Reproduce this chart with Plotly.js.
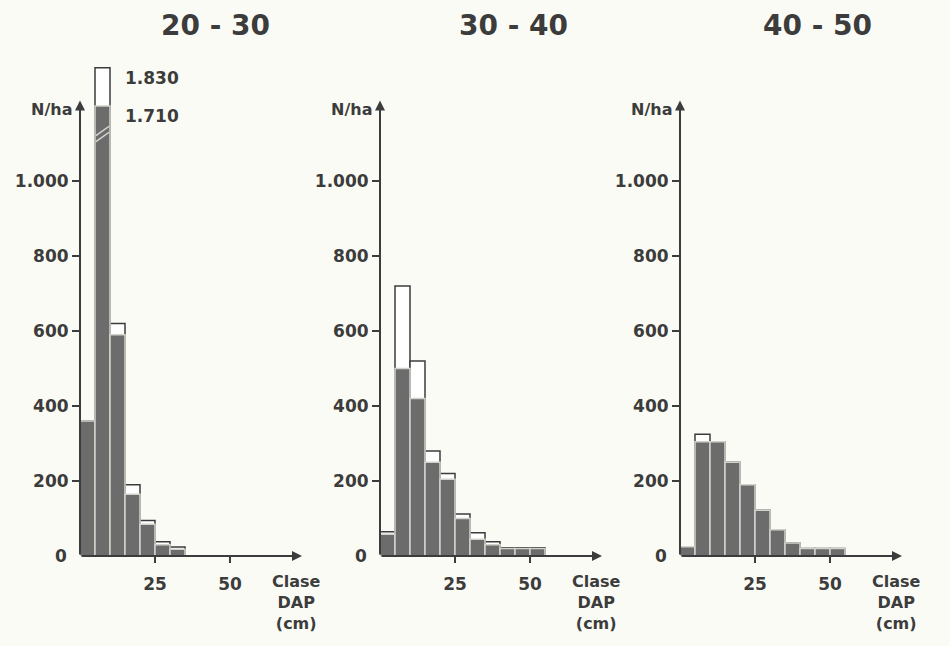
<!DOCTYPE html>
<html>
<head>
<meta charset="utf-8">
<script src="https://cdn.plot.ly/plotly-3.0.1.min.js"></script>
<style>
  html, body { margin: 0; padding: 0; background: #fbfbf5; }
  #chart { width: 950px; height: 646px; }
</style>
</head>
<body>
<div id="chart"></div>
<script>
// ---- Data (N/ha per diameter class) ----
const classMid = [2.5, 7.5, 12.5, 17.5, 22.5, 27.5, 32.5, 37.5, 42.5, 47.5, 52.5]; // DAP class centres (cm)
const classLabels = ["0-5","5-10","10-15","15-20","20-25","25-30","30-35","35-40","40-45","45-50","50-55"];
const panelTitles = ["20 - 30", "30 - 40", "40 - 50"];

// white (outlined) bars = total; grey bars = inner series
const total_20_30 = [360, 1830, 620, 190, 95, 38, 24, 0, 0, 0, 0];
const grey_20_30  = [360, 1710, 590, 165, 85, 30, 18, 0, 0, 0, 0];
const total_30_40 = [65, 720, 520, 280, 220, 112, 62, 38, 22, 22, 22];
const grey_30_40  = [58, 500, 420, 250, 205, 100, 45, 30, 20, 20, 20];
const total_40_50 = [25, 325, 305, 250, 190, 122, 70, 35, 20, 20, 20];
const grey_40_50  = [25, 305, 305, 250, 190, 122, 70, 35, 20, 20, 20];

const yTickVals = [200, 400, 600, 800, 1000];
const yTickText = ["200", "400", "600", "800", "1.000"];
const xTickVals = [25, 50];
const xTickText = ["25", "50"];

// ---- broken y axis for the one tall bar ----
const BREAK_DISPLAY = 1125, BREAK_DATA = 1622, UPPER_SCALE = 0.85;
function disp(v) { return v > BREAK_DISPLAY ? BREAK_DISPLAY + (v - BREAK_DATA) * UPPER_SCALE : v; }
function fmt(v) { return v >= 1000 ? Math.floor(v/1000) + "." + String(v % 1000).padStart(3, "0") : String(v); }

const INK = "#3c3c3c";
const FONT = "DejaVu Sans";
const GREY = "#6c6c6c";

const panels = [
  {total: total_20_30, grey: grey_20_30, dom: [80/950, 305/950], title: 215},
  {total: total_30_40, grey: grey_30_40, dom: [380/950, 605/950], title: 513},
  {total: total_40_50, grey: grey_40_50, dom: [680/950, 905/950], title: 817}
];

const traces = [];
const layout = {
  width: 950, height: 646,
  paper_bgcolor: "#fbfbf5", plot_bgcolor: "rgba(0,0,0,0)",
  margin: {l: 0, r: 0, t: 61, b: 90},
  barmode: "overlay", bargap: 0,
  showlegend: false,
  font: {family: FONT, color: INK},
  annotations: [], shapes: []
};

panels.forEach((p, i) => {
  const sfx = i === 0 ? "" : String(i + 1);
  const xa = "x" + sfx, ya = "y" + sfx;
  traces.push({
    type: "bar", x: classMid, y: p.total.map(disp), width: 5,
    xaxis: xa, yaxis: ya,
    marker: {color: "#ffffff", line: {color: INK, width: 1.5}},
    customdata: p.total, text: classLabels, hovertemplate: "%{text}: %{customdata}<extra></extra>", textposition: "none"
  });
  traces.push({
    type: "bar", x: classMid, y: p.grey.map(disp), width: 5,
    xaxis: xa, yaxis: ya,
    marker: {color: GREY, line: {color: "#d2d2cc", width: 1.5}},
    customdata: p.grey, text: classLabels, hovertemplate: "%{text}: %{customdata}<extra></extra>", textposition: "none"
  });

  layout["xaxis" + sfx] = {
    domain: p.dom, range: [0, 75], anchor: ya,
    showgrid: false, zeroline: false, showline: false,
    tickvals: xTickVals, ticktext: xTickText,
    ticks: "outside", ticklen: 6, tickwidth: 1.5, tickcolor: INK,
    ticklabelstandoff: 7,
    tickfont: {family: FONT, size: 17, color: INK, weight: "bold"},
    fixedrange: true
  };
  layout["yaxis" + sfx] = {
    domain: [0, 1], range: [0, 1320], anchor: xa,
    showgrid: false, zeroline: false, showline: false,
    tickvals: yTickVals, ticktext: yTickText,
    ticks: "outside", ticklen: 7, tickwidth: 1.5, tickcolor: INK,
    tickfont: {family: FONT, size: 17, color: INK, weight: "bold"},
    fixedrange: true
  };

  // axis arrows
  layout.annotations.push({
    xref: xa, yref: ya, axref: xa, ayref: ya,
    x: 0, y: 1215, ax: 0, ay: 0, text: "", showarrow: true,
    arrowhead: 2, arrowsize: 1, arrowwidth: 2, arrowcolor: INK
  });
  layout.annotations.push({
    xref: xa, yref: ya, axref: xa, ayref: ya,
    x: 74, y: 0, ax: 0, ay: 0, text: "", showarrow: true,
    arrowhead: 2, arrowsize: 1, arrowwidth: 2, arrowcolor: INK
  });
  // zero label
  layout.annotations.push({
    xref: xa, yref: ya, x: 0, y: 0, xanchor: "right", yanchor: "middle",
    xshift: -11, text: "0", showarrow: false,
    font: {family: FONT, size: 17, color: INK, weight: "bold"}
  });
  // N/ha
  layout.annotations.push({
    xref: xa, yref: ya, x: 0, y: 1190, xanchor: "right", yanchor: "middle",
    xshift: -6, text: "N/ha", showarrow: false,
    font: {family: FONT, size: 16, color: INK, weight: "bold"}
  });
  // Clase DAP (cm)
  layout.annotations.push({
    xref: xa, yref: ya, x: 72, y: 0, xanchor: "center", yanchor: "top",
    yshift: -14, text: "Clase<br>DAP<br>(cm)", showarrow: false, align: "center",
    font: {family: FONT, size: 16, color: INK, weight: "bold"}
  });
  // panel title
  layout.annotations.push({
    xref: "paper", yref: "paper", x: p.title / 950, xanchor: "center",
    y: 1, yanchor: "bottom", yshift: 17,
    text: panelTitles[i], showarrow: false,
    font: {family: FONT, size: 28, color: INK, weight: "bold"}
  });
});

// values printed beside the broken bar (panel 20-30, class 5-10)
const tallIdx = total_20_30.indexOf(Math.max(...total_20_30));
[total_20_30[tallIdx], grey_20_30[tallIdx]].forEach(v => {
  layout.annotations.push({
    xref: "x", yref: "y", x: classMid[tallIdx] + 2.5, y: disp(v),
    xanchor: "left", yanchor: "top", xshift: 13, yshift: 2,
    text: fmt(v), showarrow: false,
    font: {family: FONT, size: 17, color: INK, weight: "bold"}
  });
});
// break marks on the tall bar
[0, 16].forEach(d => {
  layout.shapes.push({
    type: "line", xref: "x", yref: "y",
    x0: classMid[tallIdx] - 2.2, y0: BREAK_DISPLAY - 20 + d,
    x1: classMid[tallIdx] + 2.2, y1: BREAK_DISPLAY + 5 + d,
    line: {color: "#d8d8d2", width: 1.5}
  });
});

Plotly.newPlot("chart", traces, layout, {staticPlot: true});
</script>
</body>
</html>
